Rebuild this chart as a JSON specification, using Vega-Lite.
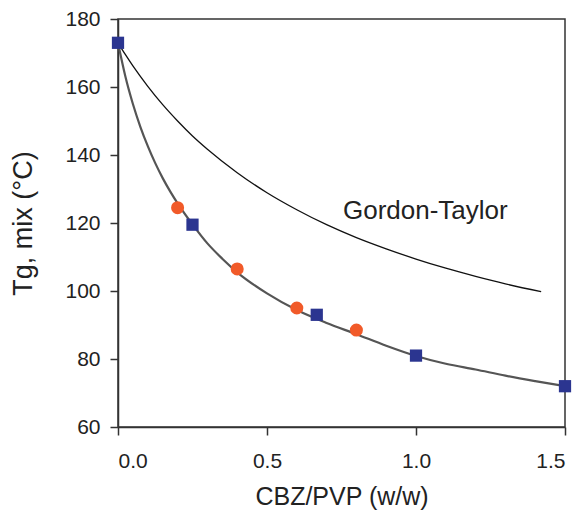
{
  "$schema": "https://vega.github.io/schema/vega-lite/v6.json",
  "width": 447,
  "height": 408,
  "autosize": "none",
  "padding": {"left": 118, "top": 19, "right": 15, "bottom": 88},
  "background": "white",
  "config": {
    "font": "Liberation Sans",
    "view": {"stroke": "#333333", "strokeWidth": 1.5},
    "axis": {
      "grid": false,
      "domainColor": "#333333",
      "domainWidth": 1.5,
      "tickColor": "#333333",
      "tickWidth": 1.5,
      "tickSize": 8,
      "labelFont": "Liberation Sans",
      "labelFontSize": 21,
      "labelColor": "#222222",
      "titleFont": "Liberation Sans",
      "titleFontWeight": "normal",
      "titleColor": "#222222"
    }
  },
  "datasets": {
    "fit": [
      {"x": 0, "y": 173},
      {"x": 0.025, "y": 163},
      {"x": 0.05, "y": 155},
      {"x": 0.075, "y": 148.3},
      {"x": 0.1, "y": 142.6},
      {"x": 0.125, "y": 137.6},
      {"x": 0.15, "y": 133.2},
      {"x": 0.175, "y": 129.3},
      {"x": 0.2, "y": 125.8},
      {"x": 0.25, "y": 119.6},
      {"x": 0.3, "y": 114},
      {"x": 0.35, "y": 109.5},
      {"x": 0.4, "y": 105.5},
      {"x": 0.5, "y": 99.3},
      {"x": 0.6, "y": 94.4},
      {"x": 0.7, "y": 90.6},
      {"x": 0.8, "y": 87.3},
      {"x": 0.9, "y": 83.9},
      {"x": 1.0, "y": 80.9},
      {"x": 1.1, "y": 78.6},
      {"x": 1.2, "y": 76.9},
      {"x": 1.3, "y": 75.1},
      {"x": 1.4, "y": 73.5},
      {"x": 1.5, "y": 72}
    ],
    "gt": [
      {"x": 0, "y": 173},
      {"x": 0.025, "y": 169.5},
      {"x": 0.05, "y": 166.2},
      {"x": 0.1, "y": 160.2},
      {"x": 0.15, "y": 154.8},
      {"x": 0.2, "y": 150},
      {"x": 0.25, "y": 145.6},
      {"x": 0.3, "y": 141.7},
      {"x": 0.4, "y": 134.8},
      {"x": 0.5, "y": 128.9},
      {"x": 0.6, "y": 123.9},
      {"x": 0.7, "y": 119.5},
      {"x": 0.8, "y": 115.7},
      {"x": 0.9, "y": 112.4},
      {"x": 1.0, "y": 109.4},
      {"x": 1.1, "y": 106.7},
      {"x": 1.2, "y": 104.3},
      {"x": 1.3, "y": 102.1},
      {"x": 1.42, "y": 99.8}
    ],
    "squares": [
      {"x": 0, "y": 173},
      {"x": 0.25, "y": 119.5},
      {"x": 0.667, "y": 93},
      {"x": 1.0, "y": 81},
      {"x": 1.5, "y": 72}
    ],
    "circles": [
      {"x": 0.2, "y": 124.5},
      {"x": 0.4, "y": 106.5},
      {"x": 0.6, "y": 95},
      {"x": 0.8, "y": 88.5}
    ],
    "label": [
      {"x": 0.755, "y": 121.2, "text": "Gordon-Taylor"}
    ]
  },
  "layer": [
    {
      "data": {"name": "fit"},
      "mark": {"type": "line", "color": "#555555", "strokeWidth": 2.2, "interpolate": "monotone", "clip": false},
      "encoding": {
        "x": {
          "field": "x", "type": "quantitative",
          "scale": {"domain": [0, 1.5], "nice": false, "zero": false},
          "axis": {"values": [0, 0.5, 1, 1.5], "format": ".1f", "title": "CBZ/PVP (w/w)", "titleFontSize": 25, "labelPadding": 15, "titlePadding": 13}
        },
        "y": {
          "field": "y", "type": "quantitative",
          "scale": {"domain": [60, 180], "nice": false, "zero": false},
          "axis": {"values": [60, 80, 100, 120, 140, 160, 180], "title": "Tg, mix (°C)", "titleFontSize": 27, "labelPadding": 10, "titlePadding": 27}
        }
      }
    },
    {
      "data": {"name": "gt"},
      "mark": {"type": "line", "color": "#111111", "strokeWidth": 1.3, "interpolate": "monotone"},
      "encoding": {
        "x": {"field": "x", "type": "quantitative"},
        "y": {"field": "y", "type": "quantitative"}
      }
    },
    {
      "data": {"name": "circles"},
      "mark": {"type": "point", "shape": "circle", "filled": true, "color": "#F15A29", "opacity": 1, "size": 170},
      "encoding": {
        "x": {"field": "x", "type": "quantitative"},
        "y": {"field": "y", "type": "quantitative"}
      }
    },
    {
      "data": {"name": "squares"},
      "mark": {"type": "point", "shape": "square", "filled": true, "color": "#2B3590", "opacity": 1, "size": 150, "clip": false},
      "encoding": {
        "x": {"field": "x", "type": "quantitative"},
        "y": {"field": "y", "type": "quantitative"}
      }
    },
    {
      "data": {"name": "label"},
      "mark": {"type": "text", "align": "left", "baseline": "alphabetic", "fontSize": 26, "font": "Liberation Sans", "color": "#222222"},
      "encoding": {
        "x": {"field": "x", "type": "quantitative"},
        "y": {"field": "y", "type": "quantitative"},
        "text": {"field": "text"}
      }
    }
  ]
}
